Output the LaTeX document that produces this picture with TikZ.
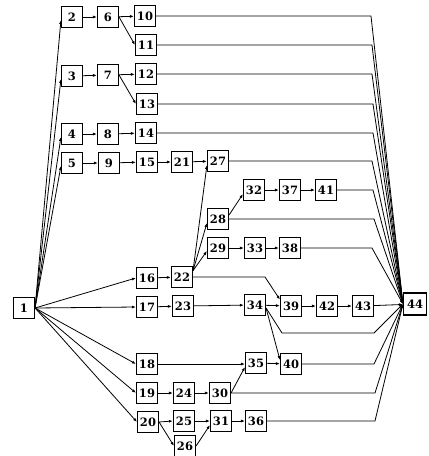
\documentclass[tikz,border=0pt]{standalone}
\usepackage{fontspec}
\setmainfont{DejaVu Serif}
\usetikzlibrary{arrows.meta}
\begin{document}
\begin{tikzpicture}[x=1pt,y=-1pt,
  box/.style={draw,line width=1.1pt,minimum width=21pt,minimum height=21pt,inner sep=0pt,fill=white,font=\fontsize{11.5}{11.5}\selectfont\bfseries},
  ar/.style={line width=0.8pt,-{Latex[length=4pt,width=3pt]}},
  ln/.style={line width=0.8pt}]
\useasboundingbox (0,0) rectangle (429,456);
% nodes
\node[box] (n1) at (24,308) {1};
\node[box] (n2) at (72,17) {2};
\node[box] (n3) at (72,76) {3};
\node[box] (n4) at (72,134) {4};
\node[box] (n5) at (72,163) {5};
\node[box] (n6) at (108,17) {6};
\node[box] (n7) at (108,75) {7};
\node[box] (n8) at (108,134) {8};
\node[box] (n9) at (109,163) {9};
\node[box] (n10) at (145,16) {10};
\node[box] (n11) at (146,45) {11};
\node[box] (n12) at (146,74) {12};
\node[box] (n13) at (147,104) {13};
\node[box] (n14) at (146,133) {14};
\node[box] (n15) at (147,162) {15};
\node[box] (n16) at (147,278) {16};
\node[box] (n17) at (147,307) {17};
\node[box] (n18) at (147,364) {18};
\node[box] (n19) at (147,393) {19};
\node[box] (n20) at (148,422) {20};
\node[box] (n21) at (182,162) {21};
\node[box] (n22) at (182,277) {22};
\node[box] (n23) at (183,306) {23};
\node[box] (n24) at (184,393) {24};
\node[box] (n25) at (184,421) {25};
\node[box] (n26) at (185,446) {26};
\node[box] (n27) at (218,161) {27};
\node[box] (n28) at (218,219) {28};
\node[box] (n29) at (218,248) {29};
\node[box] (n30) at (220,393) {30};
\node[box] (n31) at (221,421) {31};
\node[box] (n32) at (254,190) {32};
\node[box] (n33) at (255,248) {33};
\node[box] (n34) at (255,305) {34};
\node[box] (n35) at (256,363) {35};
\node[box] (n36) at (256,421) {36};
\node[box] (n37) at (290,190) {37};
\node[box] (n38) at (290,248) {38};
\node[box] (n39) at (291,306) {39};
\node[box] (n40) at (291,364) {40};
\node[box] (n41) at (326,190) {41};
\node[box] (n42) at (327,306) {42};
\node[box] (n43) at (363,306) {43};
\node[box,minimum width=23pt,minimum height=22pt] (n44) at (415,304) {44};
% bend coordinates
\coordinate (kA) at (371,0);
\coordinate (kB) at (372,0);
\coordinate (kC) at (373,0);
\coordinate (kD) at (374,0);
\coordinate (kE) at (375,0);
\coordinate (j1) at (282,333);
\coordinate (j3) at (265,0);
% from 1
\foreach \t in {2,3,4,5} \draw[ar] (n1.east) -- (n\t.195);
\foreach \t in {16,17,18,19,20} \draw[ar] (n1.east) -- (n\t.west);
% chains
\draw[ar] (n2) -- (n6);
\draw[ar] (n6) -- (n10);
\draw[ar] (n6.east) -- (n11.west);
\draw[ar] (n3) -- (n7);
\draw[ar] (n7) -- (n12);
\draw[ar] (n7.east) -- (n13.west);
\draw[ar] (n4) -- (n8);
\draw[ar] (n8) -- (n14);
\draw[ar] (n5) -- (n9);
\draw[ar] (n9) -- (n15);
\draw[ar] (n15) -- (n21);
\draw[ar] (n21) -- (n27);
\draw[ar] (n16) -- (n22);
\draw[ar] (n22.30) -- (n27.200);
\draw[ar] (n22.30) -- (n28.200);
\draw[ar] (n22.30) -- (n29.195);
\draw[ar] (n22.east) -- (n22.east -| j3) -- (n39.150);
\draw[ar] (n28.20) -- (n32.200);
\draw[ar] (n32) -- (n37);
\draw[ar] (n37) -- (n41);
\draw[ar] (n29) -- (n33);
\draw[ar] (n33) -- (n38);
\draw[ar] (n17) -- (n23);
\draw[ar] (n23) -- (n34);
\draw[ar] (n34) -- (n39);
\draw[ar] (n39) -- (n42);
\draw[ar] (n42) -- (n43);
\draw[ar] (n43) -- (n44);
\draw[ar] (n34.-15) -- (n40.160);
\draw[ar] (n18.east) -- (n18.east -| n35.west);
\draw[ar] (n35) -- (n40);
\draw[ar] (n19) -- (n24);
\draw[ar] (n24) -- (n30);
\draw[ar] (n30.east) -- (n35.200);
\draw[ar] (n20.east) -- (n25.west);
\draw[ar] (n20.east) -- (n26.west);
\draw[ar] (n25) -- (n31);
\draw[ar] (n26.east) -- (n31.200);
\draw[ar] (n31) -- (n36);
% into 44
\draw[ar] (n10.east) -- (n10.east -| kA) -- (n44.west);
\draw[ar] (n11.east) -- (n11.east -| kB) -- (n44.west);
\draw[ar] (n12.east) -- (n12.east -| kB) -- (n44.west);
\draw[ar] (n13.east) -- (n13.east -| kC) -- (n44.west);
\draw[ar] (n14.east) -- (n14.east -| kC) -- (n44.west);
\draw[ar] (n27.east) -- (n27.east -| kB) -- (n44.west);
\draw[ar] (n41.east) -- (n41.east -| kC) -- (n44.west);
\draw[ar] (n28.east) -- (n28.east -| kD) -- (n44.west);
\draw[ar] (n38.east) -- (n38.east -| kB) -- (n44.west);
\draw[ar] (n34.-15) -- (j1) -- (j1 -| kD) -- (n44.west);
\draw[ar] (n40.east) -- (n40.east -| kD) -- (n44.west);
\draw[ar] (n30.east) -- (n30.east -| kE) -- (n44.west);
\draw[ar] (n36.east) -- (n36.east -| kE) -- (n44.west);
\end{tikzpicture}
\end{document}
